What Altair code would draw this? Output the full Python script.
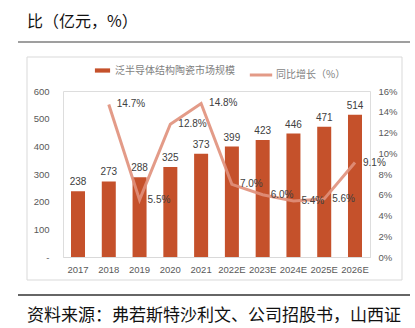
import altair as alt
import pandas as pd

years = ["2017", "2018", "2019", "2020", "2021", "2022E", "2023E", "2024E", "2025E", "2026E"]
market = [238, 273, 288, 325, 373, 399, 423, 446, 471, 514]
growth = [None, 14.7, 5.5, 12.8, 14.8, 7.0, 6.0, 5.4, 5.6, 9.1]

bar_name = "泛半导体结构陶瓷市场规模"
line_name = "同比增长（%）"
title_text = "比（亿元，%）"
source_text = "资料来源：弗若斯特沙利文、公司招股书，山西证"

df = pd.DataFrame({"year": years, "market": market, "growth": growth})
df["bar_s"] = bar_name
df["line_s"] = line_name
df["glabel"] = [("" if g is None else f"{g:.1f}%") for g in growth]
gdf = df.dropna(subset=["growth"])

FONT = "Noto Sans CJK SC"
NFONT = "Liberation Sans"
BAR_C = "#C5512B"
LINE_C = "#E0907B"

xenc = alt.X("year:N", sort=years, title=None,
             scale=alt.Scale(paddingInner=0.545, paddingOuter=0.26),
             axis=alt.Axis(labelAngle=0, ticks=False, domainColor="#D9D9D9", domainWidth=1,
                           labelColor="#595959", labelFontSize=9.5, labelPadding=7, labelFont=NFONT,
                           labelOverlap=False))

yleft = alt.Y("market:Q", title=None,
              scale=alt.Scale(domain=[0, 600]),
              axis=alt.Axis(values=[0, 100, 200, 300, 400, 500, 600], grid=False, ticks=False, domain=False,
                            labelExpr="datum.value == 0 ? '-' : datum.label", labelOverlap=False,
                            labelColor="#595959", labelFontSize=9.5, labelPadding=14, labelFont=NFONT))

yright = alt.Y("growth:Q", title=None,
               scale=alt.Scale(domain=[0, 16]),
               axis=alt.Axis(orient="right", values=[0, 2, 4, 6, 8, 10, 12, 14, 16], grid=False, ticks=False,
                             domain=False, labelExpr="datum.value + '%'", labelOverlap=False,
                             labelColor="#595959", labelFontSize=9.5, labelPadding=8, labelFont=NFONT))

bars = alt.Chart(df).mark_bar().encode(
    x=xenc,
    y=yleft,
    color=alt.Color("bar_s:N", title=None,
                    scale=alt.Scale(domain=[bar_name], range=[BAR_C]),
                    legend=alt.Legend(orient="none", legendX=31, legendY=-29,
                                      symbolType="M-1,-0.28H1V0.28H-1Z", symbolSize=230,
                                      labelFontSize=10, labelColor="#7F7F7F", labelFont=FONT,
                                      labelOffset=4)),
)

bar_text = alt.Chart(df).mark_text(baseline="bottom", dy=-4, fontSize=10, color="#404040", font=NFONT).encode(
    x=xenc,
    y=yleft,
    text=alt.Text("market:Q"),
)

line = alt.Chart(gdf).mark_line(strokeWidth=3, opacity=0.9).encode(
    x=xenc,
    y=yright,
    stroke=alt.Stroke("line_s:N", title=None,
                      scale=alt.Scale(domain=[line_name], range=[LINE_C]),
                      legend=alt.Legend(orient="none", legendX=185, legendY=-29,
                                        symbolType="stroke", symbolSize=500, symbolStrokeWidth=3,
                                        labelFontSize=10, labelColor="#7F7F7F", labelFont=FONT,
                                        labelOffset=2)),
)

line_text = alt.Chart(gdf).mark_text(align="left", baseline="middle", dx=8, fontSize=10,
                                     color="#404040", font=NFONT).encode(
    x=xenc,
    y=yright,
    text="glabel:N",
)

deco_df = pd.DataFrame({"a": [0]})
box = alt.Chart(deco_df).mark_rect(fill=None, stroke="#D9D9D9", strokeWidth=1).encode(
    x=alt.value(-36), x2=alt.value(339), y=alt.value(-34), y2=alt.value(189))
top_rule = alt.Chart(deco_df).mark_rule(color="#7F7F7F", strokeWidth=1.5).encode(
    x=alt.value(-45), x2=alt.value(347), y=alt.value(-49))
bot_rule = alt.Chart(deco_df).mark_rule(color="#333333", strokeWidth=1.5).encode(
    x=alt.value(-45), x2=alt.value(347), y=alt.value(204))
title_mark = alt.Chart(deco_df).mark_text(align="left", baseline="middle", fontSize=16, color="#111111",
                                          font=FONT, text=title_text).encode(
    x=alt.value(-36), y=alt.value(-69))
source_mark = alt.Chart(deco_df).mark_text(align="left", baseline="middle", fontSize=17, color="#111111",
                                           font=FONT, text=source_text).encode(
    x=alt.value(-36), y=alt.value(225))

left_layer = alt.layer(bars, bar_text)
right_layer = alt.layer(line, line_text)

chart = alt.layer(box, left_layer, right_layer, top_rule, bot_rule, title_mark, source_mark).resolve_scale(
    y="independent", color="independent", stroke="independent"
).properties(
    width=307, height=166,
    autosize=alt.AutoSizeParams(type="none"),
    padding={"left": 63, "top": 91, "right": 45, "bottom": 71},
).configure_view(stroke=None).configure(background="white")

chart.save("out.html", embed_options={"renderer": "svg", "actions": False})
